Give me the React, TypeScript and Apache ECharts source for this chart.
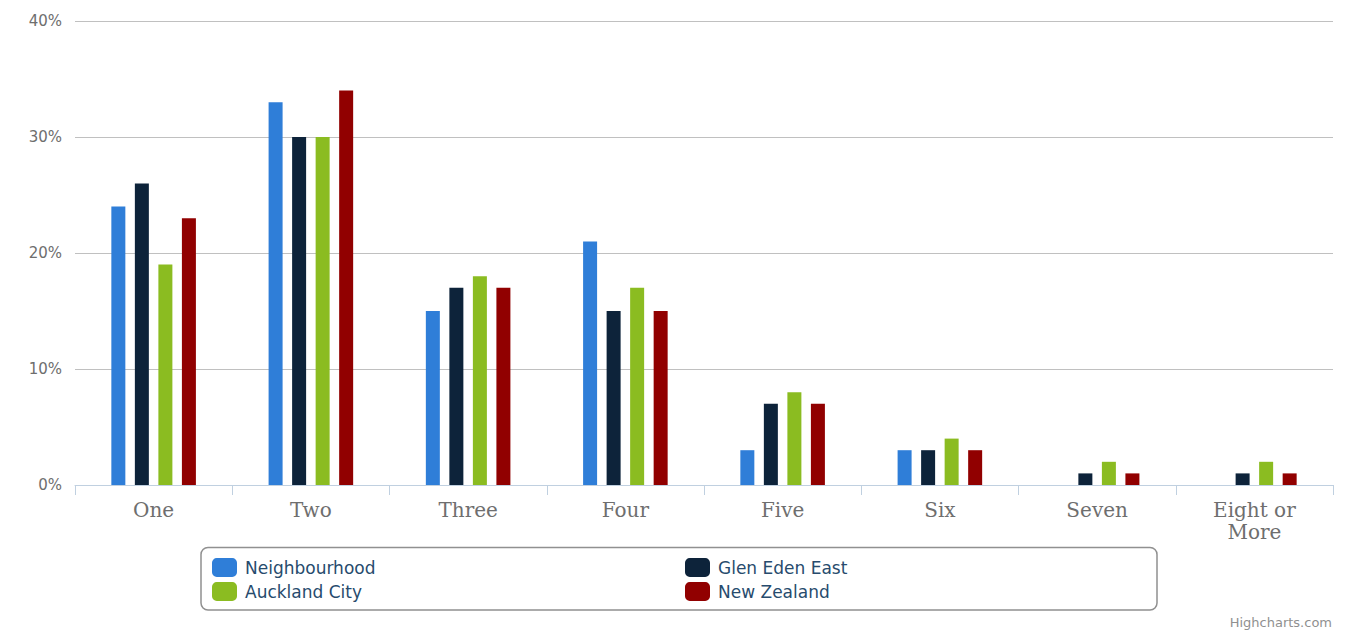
import React, { useEffect, useRef } from "react";
import * as echarts from "echarts";

const categories = ["One", "Two", "Three", "Four", "Five", "Six", "Seven", "Eight or More"];
const neighbourhood = [24, 33, 15, 21, 3, 3, 0, 0];
const glenEdenEast = [26, 30, 17, 15, 7, 3, 1, 1];
const aucklandCity = [19, 30, 18, 17, 8, 4, 2, 2];
const newZealand = [23, 34, 17, 15, 7, 3, 1, 1];
const yTicks = { min: 0, max: 40, interval: 10 };

const seriesDefs = [
  { name: "Neighbourhood", data: neighbourhood, color: "#2f7ed8" },
  { name: "Glen Eden East", data: glenEdenEast, color: "#0d233a" },
  { name: "Auckland City", data: aucklandCity, color: "#8bbc21" },
  { name: "New Zealand", data: newZealand, color: "#910000" },
];

export default function App() {
  const ref = useRef<HTMLDivElement>(null);
  useEffect(() => {
    if (!ref.current) return;
    const chart = echarts.init(ref.current, undefined, { renderer: "svg" });
    const legendText = {
      fontSize: 17,
      color: "#274b6d",
      fontFamily: "DejaVu Sans",
      padding: [0, 0, 0, 3],
    };
    chart.setOption({
      animation: false,
      backgroundColor: "#ffffff",
      grid: { left: 75, right: 16, top: 21, bottom: 146, containLabel: false },
      xAxis: {
        type: "category",
        data: categories,
        axisLine: { show: true, lineStyle: { color: "#C0D0E0", width: 1 } },
        axisTick: { show: true, length: 10, lineStyle: { color: "#C0D0E0" } },
        axisLabel: {
          fontFamily: "DejaVu Serif",
          fontSize: 20,
          color: "#6e6e6e",
          margin: 14,
          lineHeight: 22,
          formatter: (v: string) => (v === "Eight or More" ? "Eight or\nMore" : v),
        },
      },
      yAxis: {
        type: "value",
        min: yTicks.min,
        max: yTicks.max,
        interval: yTicks.interval,
        axisLine: { show: false },
        axisTick: { show: false },
        splitLine: { lineStyle: { color: "#C0C0C0", width: 1 } },
        axisLabel: {
          fontFamily: "DejaVu Sans",
          fontSize: 15,
          color: "#6e6e6e",
          margin: 13,
          formatter: "{value}%",
        },
      },
      legend: [
        {
          orient: "vertical",
          left: 212,
          top: 558,
          padding: 0,
          itemWidth: 25,
          itemHeight: 19,
          itemGap: 5,
          icon: "roundRect",
          data: ["Neighbourhood", "Auckland City"],
          textStyle: legendText,
        },
        {
          orient: "vertical",
          left: 685,
          top: 558,
          padding: 0,
          itemWidth: 25,
          itemHeight: 19,
          itemGap: 5,
          icon: "roundRect",
          data: ["Glen Eden East", "New Zealand"],
          textStyle: legendText,
        },
      ],
      graphic: [
        {
          type: "rect",
          shape: { x: 201, y: 547.5, width: 956, height: 62.5, r: 7 },
          style: { fill: "none", stroke: "#909090", lineWidth: 1.5 },
          silent: true,
        },
        {
          type: "text",
          x: 1332,
          y: 622,
          style: {
            text: "Highcharts.com",
            fontSize: 13,
            fontFamily: "DejaVu Sans",
            fill: "#909090",
            textAlign: "right",
            textVerticalAlign: "middle",
          },
        },
      ],
      series: seriesDefs.map((s) => ({
        type: "bar",
        name: s.name,
        data: s.data,
        barWidth: 14,
        barGap: "68%",
        itemStyle: { color: s.color },
      })),
    });
    return () => chart.dispose();
  }, []);
  return (
    <div
      ref={ref}
      style={{ position: "absolute", left: 0, top: 0, width: 1349, height: 631 }}
    />
  );
}
